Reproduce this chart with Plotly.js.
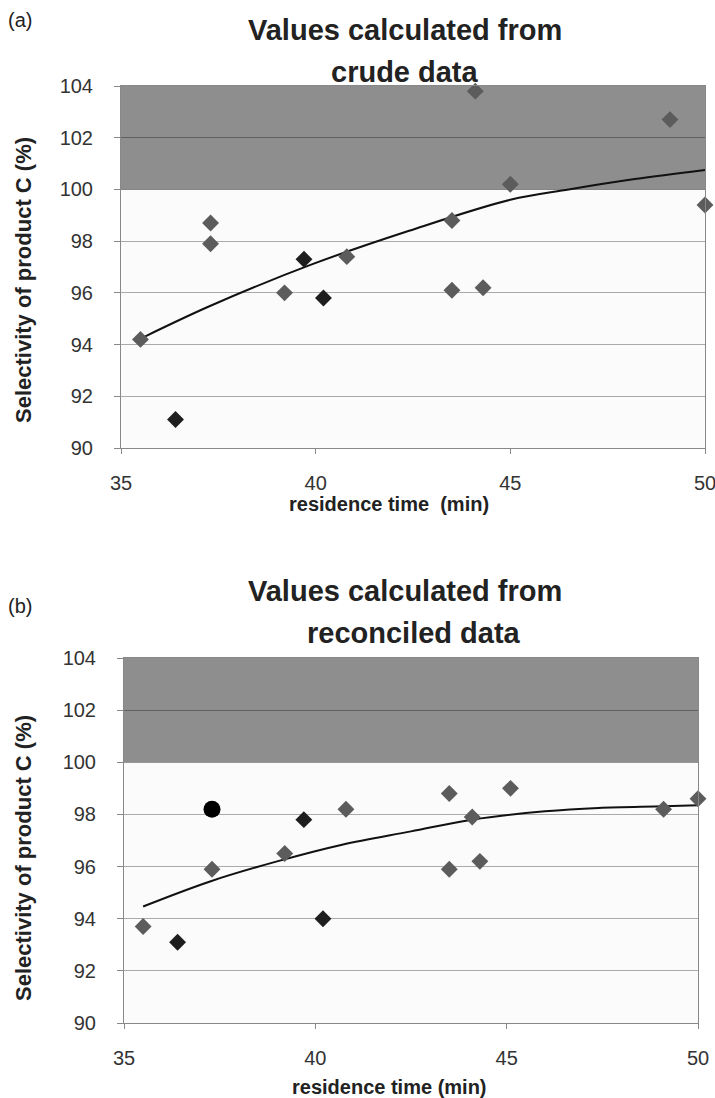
<!DOCTYPE html>
<html>
<head>
<meta charset="utf-8">
<script src="https://cdn.plot.ly/plotly-3.0.1.min.js"></script>
<style>html,body{margin:0;padding:0;background:#fff;}#chart{width:715px;height:1098px;}</style>
</head>
<body>
<div id="chart"></div>
<script>
// ---- data ----
// (a) crude data
const crudeGrayX = [35.5, 37.3, 37.3, 39.2, 40.8, 43.5, 43.5, 44.1, 44.3, 45.0, 49.1, 50.0];
const crudeGrayY = [94.2, 98.7, 97.9, 96.0, 97.4, 98.8, 96.1, 103.8, 96.2, 100.2, 102.7, 99.4];
const crudeDarkX = [36.4, 39.7, 40.2];
const crudeDarkY = [91.1, 97.3, 95.8];
const crudeTrendX = [35.6, 37.3, 39.9, 42.4, 45.0, 46.5, 48.2, 50.0];
const crudeTrendY = [94.3, 95.5, 97.1, 98.4, 99.6, 100.0, 100.4, 100.75];
// (b) reconciled data
const recGrayX = [35.5, 37.3, 39.2, 40.8, 43.5, 43.5, 44.1, 44.3, 45.1, 49.1, 50.0];
const recGrayY = [93.7, 95.9, 96.5, 98.2, 98.8, 95.9, 97.9, 96.2, 99.0, 98.2, 98.6];
const recDarkX = [36.4, 39.7, 40.2];
const recDarkY = [93.1, 97.8, 94.0];
const recCircleX = [37.3];
const recCircleY = [98.2];
const recTrendX = [35.5, 37.25, 39.0, 40.7, 42.5, 44.1, 46.0, 47.4, 49.1, 50.0];
const recTrendY = [94.47, 95.43, 96.2, 96.84, 97.35, 97.8, 98.12, 98.25, 98.31, 98.35];
// axes
const xTicks = [35, 40, 45, 50];
const yTicks = [90, 92, 94, 96, 98, 100, 102, 104];
const yRange = [90, 104];
const xRange = [35, 50];
const bandRange = [100, 104];

const W = 715, H = 1098;
const FONT = 'Liberation Sans, Arial, Helvetica, sans-serif';
const GRAY = '#5c5c5c', DARK = '#1e1e1e';

function diamonds(x, y, color, xa, ya) {
  return {x, y, xaxis: xa, yaxis: ya, type: 'scatter', mode: 'markers', cliponaxis: false,
    marker: {symbol: 'diamond', size: 13, color: color, line: {width: 0}}, hoverinfo: 'x+y'};
}
function trend(x, y, xa, ya) {
  return {x, y, xaxis: xa, yaxis: ya, type: 'scatter', mode: 'lines',
    line: {color: '#111', width: 2, shape: 'spline', smoothing: 1}, hoverinfo: 'skip'};
}

const data = [
  trend(crudeTrendX, crudeTrendY, 'x', 'y'),
  diamonds(crudeGrayX, crudeGrayY, GRAY, 'x', 'y'),
  diamonds(crudeDarkX, crudeDarkY, DARK, 'x', 'y'),
  trend(recTrendX, recTrendY, 'x2', 'y2'),
  diamonds(recGrayX, recGrayY, GRAY, 'x2', 'y2'),
  diamonds(recDarkX, recDarkY, DARK, 'x2', 'y2'),
  {x: recCircleX, y: recCircleY, xaxis: 'x2', yaxis: 'y2', type: 'scatter', mode: 'markers', cliponaxis: false,
   marker: {symbol: 'circle', size: 17, color: '#000'}}
];

function xaxis(l, r) {
  return {domain: [l / W, r / W], range: xRange, tickvals: xTicks, ticktext: xTicks.map(String),
    ticks: 'outside', ticklen: 5, tickcolor: '#888', showline: true, linecolor: '#888', linewidth: 1, mirror: true,
    showgrid: false, zeroline: false, ticklabelstandoff: 12, ticklabeloverflow: 'allow',
    tickfont: {family: FONT, size: 20, color: '#333'}, fixedrange: true};
}
function yaxis(top, bottom) {
  return {domain: [1 - bottom / H, 1 - top / H], range: yRange, tickvals: yTicks, ticktext: yTicks.map(String),
    ticks: 'outside', ticklen: 6, tickcolor: '#888', showline: true, linecolor: '#888', linewidth: 1, mirror: true,
    showgrid: true, gridcolor: 'rgba(0,0,0,0.32)', gridwidth: 1, zeroline: false, ticklabelstandoff: 17,
    tickfont: {family: FONT, size: 20, color: '#333'}, fixedrange: true};
}

function band(xr, yr) {
  return {type: 'rect', xref: xr, yref: yr, x0: xRange[0], x1: xRange[1], y0: bandRange[0], y1: bandRange[1],
    fillcolor: '#8e8e8e', line: {width: 0}, layer: 'below'};
}

function txt(text, x, y, size, bold, extra) {
  return Object.assign({text: bold ? '<b>' + text + '</b>' : text, xref: 'paper', yref: 'paper',
    x: x / W, y: 1 - y / H, xanchor: 'center', yanchor: 'middle', showarrow: false,
    font: {family: FONT, size: size, color: '#222'}}, extra || {});
}

const layout = {
  width: W, height: H, margin: {l: 0, r: 0, t: 0, b: 0},
  paper_bgcolor: '#ffffff', plot_bgcolor: '#fbfbfb', showlegend: false,
  xaxis: xaxis(121, 705), yaxis: yaxis(86, 448),
  xaxis2: Object.assign(xaxis(124, 698), {anchor: 'y2'}), yaxis2: Object.assign(yaxis(658, 1023), {anchor: 'x2'}),
  shapes: [band('x', 'y'), band('x2', 'y2')],
  annotations: [
    txt('(a)', 20, 20, 20, false),
    txt('Values calculated from', 405, 30, 29, true),
    txt('crude data', 405, 72, 29, true),
    txt('Selectivity of product C (%)', 23, 280, 22, true, {textangle: -90}),
    txt('residence time&nbsp;&nbsp;(min)', 389, 504, 20, true),
    txt('(b)', 20, 606, 20, false),
    txt('Values calculated from', 405, 591, 29, true),
    txt('reconciled data', 414, 633, 29, true),
    txt('Selectivity of product C (%)', 23, 858, 22, true, {textangle: -90}),
    txt('residence time (min)', 389, 1087, 20, true)
  ]
};
layout.xaxis.anchor = 'y';
layout.yaxis.anchor = 'x';

Plotly.newPlot('chart', data, layout, {displayModeBar: false, staticPlot: true});
</script>
</body>
</html>
